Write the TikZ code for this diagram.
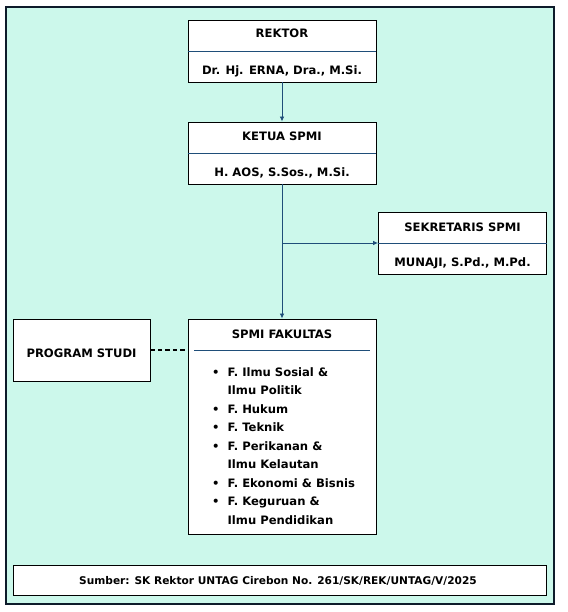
\documentclass[tikz,border=0pt]{standalone}
\usepackage{fontspec}
\setmainfont{DejaVu Sans}
\usetikzlibrary{arrows.meta}

\definecolor{mint}{HTML}{CCF8EB}
\definecolor{framenavy}{HTML}{0D1B2A}
\definecolor{linkblue}{HTML}{1F4E79}

\begin{document}
\begin{tikzpicture}[x=1pt, y=-1pt,
        box/.style={draw=black, fill=white, line width=0.9pt, inner sep=0pt,
                    minimum width=188pt, minimum height=62pt},
        txt/.style={font=\bfseries\fontsize{11.6}{13}\selectfont, inner sep=0pt, anchor=base},
        divider/.style={draw=linkblue, line width=0.8pt},
        link/.style={draw=linkblue, line width=0.8pt, -{Latex[length=5pt,width=4.5pt]}}]
        \useasboundingbox (0,0) rectangle (567,612);
        \draw[framenavy, line width=1.2pt, fill=mint] (6,7) rectangle (554,604);

        \node[box] (rektor)  at (282,51)  {};
        \node[txt] (rektorT) at (282,38)  {REKTOR};
        \node[txt] (rektorN) at (282,75)  {Dr. Hj. ERNA, Dra., M.Si.};
        \draw[divider] (rektor.west) -- (rektor.east);

        \node[box] (ketua)  at (282,153) {};
        \node[txt] (ketuaT) at (282,141) {KETUA SPMI};
        \node[txt] (ketuaN) at (282,177) {H. AOS, S.Sos., M.Si.};
        \draw[divider] (ketua.west) -- (ketua.east);

        \node[box, minimum width=168pt] (sekretaris)  at (462.5,243) {};
        \node[txt] (sekretarisT) at (462.5,231) {SEKRETARIS SPMI};
        \node[txt] (sekretarisN) at (462.5,266) {MUNAJI, S.Pd., M.Pd.};
        \draw[divider] (sekretaris.west) -- (sekretaris.east);

        \node[box, minimum height=215pt] (fakultas)  at (282,426.5) {};
        \node[txt] (fakultasT) at (282,338) {SPMI FAKULTAS};
        \draw[divider] (194,350) -- (370,350);
        \node[txt, anchor=base west] (fakultasL) at (212,376) {%
            \fontsize{11.6}{18.5}\selectfont
            \begin{tabular}[t]{@{}c@{\hspace{8pt}}l@{}}
                \textbullet & F. Ilmu Sosial \& \\
                            & Ilmu Politik \\
                \textbullet & F. Hukum \\
                \textbullet & F. Teknik \\
                \textbullet & F. Perikanan \& \\
                            & Ilmu Kelautan \\
                \textbullet & F. Ekonomi \& Bisnis \\
                \textbullet & F. Keguruan \& \\
                            & Ilmu Pendidikan
            \end{tabular}};

        \node[box, minimum width=137pt] (program) at (81.5,350) {};
        \node[txt] (programT) at (81.5,357) {PROGRAM STUDI};

        \node[box, minimum width=533pt, minimum height=30pt] (sumber) at (279.5,580) {};
        \node[txt, font=\bfseries\fontsize{10.6}{12}\selectfont] (sumberT) at (278,584)
            {Sumber: SK Rektor UNTAG Cirebon No. 261/SK/REK/UNTAG/V/2025};

        \draw[link] (rektor.south) -- (ketua.north);
        \draw[link] (ketua.south) -- (fakultas.north);
        \draw[link] (ketua.south |- sekretaris.west) -- (sekretaris.west);
        \draw[line width=1.6pt, dash pattern=on 4.5pt off 3pt] (program.east) -- (program.east -| fakultas.west);
\end{tikzpicture}
\end{document}
